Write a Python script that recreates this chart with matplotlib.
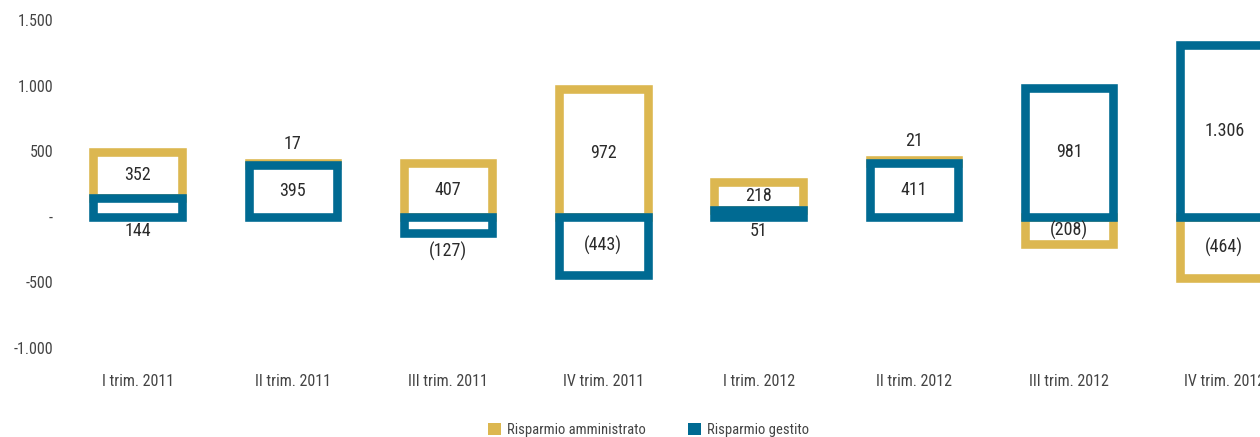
import matplotlib
matplotlib.use('Agg')
import matplotlib.pyplot as plt
from matplotlib.patches import Patch
from matplotlib import font_manager
import numpy as np

# data (milioni di euro)
quarters = ['I trim. 2011', 'II trim. 2011', 'III trim. 2011', 'IV trim. 2011',
            'I trim. 2012', 'II trim. 2012', 'III trim. 2012', 'IV trim. 2012']
amministrato = [352, 17, 407, 972, 218, 21, -208, -464]
gestito = [144, 395, -127, -443, 51, 411, 981, 1306]
yticks = [-1000, -500, 0, 500, 1000, 1500]
ytick_labels = ['-1.000', '-500', '-', '500', '1.000', '1.500']

gold = '#DCB750'
blue = '#006A92'
txt = '#2b2b2b'

# pick a condensed sans if one is installed
names = {f.name for f in font_manager.fontManager.ttflist}
font = 'Liberation Sans'
for cand in ['Roboto Condensed', 'Archivo Narrow', 'Liberation Sans Narrow',
             'PT Sans Narrow', 'Fira Sans Condensed', 'IBM Plex Sans Condensed']:
    if cand in names:
        font = cand
        break
plt.rcParams['font.family'] = [font, 'DejaVu Sans']


def fmt(v):
    s = f'{abs(v):,}'.replace(',', '.')
    return f'({s})' if v < 0 else s


x = np.arange(len(quarters))
amm = np.array(amministrato)
ges = np.array(gestito)
# amministrato stacked on gestito when same sign
amm_bottom = np.where(np.sign(amm) == np.sign(ges), ges, 0)

fig = plt.figure(figsize=(12.6, 4.37), dpi=100)
ax = fig.add_axes([60 / 1260, 89 / 437, 1 - 60 / 1260, 328 / 437])

width = 0.57
lw = 6.2
ax.bar(x, amm, width, bottom=amm_bottom, facecolor='white', edgecolor=gold,
       linewidth=lw, zorder=2)
ax.bar(x, ges, width, facecolor='white', edgecolor=blue, linewidth=lw, zorder=3)

fs = 13
for i in range(len(x)):
    # amministrato labels
    v, b = amm[i], amm_bottom[i]
    if abs(v) >= 150:
        ax.text(x[i], b + v / 2, fmt(v), ha='center', va='center', fontsize=fs,
                color=txt, zorder=5)
    else:
        ax.annotate(fmt(v), (x[i], b + v), xytext=(0, 7), textcoords='offset points',
                    ha='center', va='bottom', fontsize=fs, color=txt)
    # gestito labels
    v = ges[i]
    if abs(v) >= 150:
        ax.text(x[i], v / 2, fmt(v), ha='center', va='center', fontsize=fs,
                color=txt, zorder=5)
    elif v < 0:
        ax.annotate(fmt(v), (x[i], v), xytext=(0, -6), textcoords='offset points',
                    ha='center', va='top', fontsize=fs, color=txt)
    else:
        ax.annotate(fmt(v), (x[i], 0), xytext=(0, -4), textcoords='offset points',
                    ha='center', va='top', fontsize=fs, color=txt)

ax.set_xlim(-0.5, 7.23)
ax.set_ylim(-1000, 1500)
ax.set_yticks(yticks)
ax.set_yticklabels(ytick_labels)
ax.set_xticks(x)
ax.set_xticklabels(quarters)
ax.tick_params(axis='y', length=0, pad=5, labelsize=11.5, labelcolor='#444444')
ax.tick_params(axis='x', length=0, pad=19, labelsize=11.5, labelcolor='#444444')
for s in ax.spines.values():
    s.set_visible(False)

handles = [Patch(facecolor=gold, edgecolor='none', label='Risparmio amministrato'),
           Patch(facecolor=blue, edgecolor='none', label='Risparmio gestito')]
fig.legend(handles=handles, loc='upper center', bbox_to_anchor=(0.515, 0.048),
           ncol=2, frameon=False, fontsize=10.5, handlelength=0.85, handleheight=0.85,
           handletextpad=0.45, columnspacing=2.9, borderpad=0, labelcolor='#444444')

fig.savefig('out.png', dpi=100)
